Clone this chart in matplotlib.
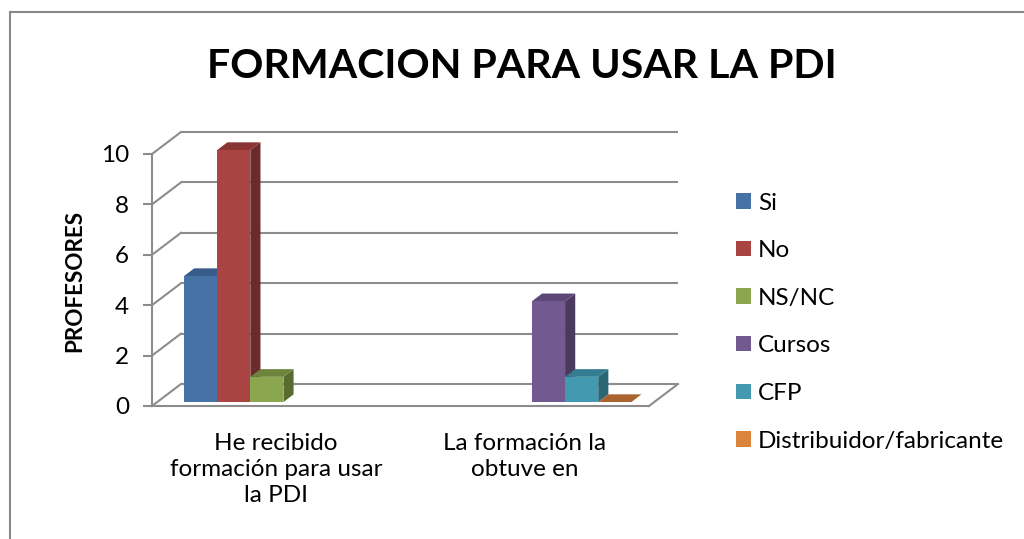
import matplotlib
matplotlib.use("Agg")
import matplotlib.pyplot as plt
from matplotlib.patches import Polygon, Rectangle, Patch
import numpy as np

# ---------------- data ----------------
categories = ["He recibido\nformación para usar\nla PDI", "La formación la\nobtuve en"]
series_names = ["Si", "No", "NS/NC", "Cursos", "CFP", "Distribuidor/fabricante"]
si = [5, None]
no = [10, None]
nsnc = [1, None]
cursos = [None, 4]
cfp = [None, 1]
distribuidor = [None, 0]
series_values = [si, no, nsnc, cursos, cfp, distribuidor]
yticks = [0, 2, 4, 6, 8, 10]
title = "FORMACION PARA USAR LA PDI"
ylabel = "PROFESORES"

# colours: front, top, side
front_cols = ["#4672A8", "#A94442", "#8AA64E", "#72598F", "#4399B0", "#DB843D"]
top_cols = ["#385C8A", "#8A3533", "#6E843D", "#5C4877", "#347C8F", "#A8632E"]
side_cols = ["#2D4A70", "#6B2B2A", "#5A6B31", "#4A3A60", "#2A6775", "#8A5025"]
grid_col = "#8C8C8C"

FONT = ["Lato", "DejaVu Sans"]
plt.rcParams['font.family'] = FONT

W, H = 1024, 539
fig = plt.figure(figsize=(W / 100, H / 100), dpi=100)
fig.patch.set_facecolor("white")

# front plane of the plot area in pixels
px_left, px_right, px_bottom, px_top = 152, 649, 406, 154
ax = fig.add_axes([px_left / W, 1 - px_bottom / H,
                   (px_right - px_left) / W, (px_bottom - px_top) / H])
ncat = len(categories)
ax.set_xlim(0, ncat)
ax.set_ylim(0, 10)
ax.patch.set_alpha(0)
for s in ax.spines.values():
    s.set_visible(False)

# depth offset (full depth) in data units
xunit = (px_right - px_left) / ncat
yunit = (px_bottom - px_top) / 10
DX = 29 / xunit
DY = 22 / yunit


def proj(x, y, z):
    return (x + z * DX, y + z * DY)


lw = 1.5
# back wall gridlines and left wall diagonals
for t in yticks:
    x0, y0 = proj(0, t, 1)
    x1, y1 = proj(ncat, t, 1)
    ax.plot([x0, x1], [y0, y1], color=grid_col, lw=lw, clip_on=False, zorder=1,
            solid_capstyle="butt")
    ax.plot([0, x0], [t, y0], color=grid_col, lw=lw, clip_on=False, zorder=1)
# floor
ax.plot([0, ncat], [0, 0], color=grid_col, lw=lw, clip_on=False, zorder=1)
xr, yr = proj(ncat, 0, 1)
ax.plot([ncat, xr], [0, yr], color=grid_col, lw=lw, clip_on=False, zorder=1)
# front vertical axis
ax.plot([0, 0], [0, 10], color=grid_col, lw=lw, clip_on=False, zorder=1)

# bars
nser = len(series_names)
gap = 1.5
bw = 1.0 / (nser + gap)
zf, zb = 0.18, 0.53
z = 2
for c in range(ncat):
    for i in range(nser):
        v = series_values[i][c]
        if v is None:
            continue
        x0 = c + gap * bw / 2 + i * bw + 0.008
        x1 = x0 + bw
        front = [proj(x0, 0, zf), proj(x1, 0, zf), proj(x1, v, zf), proj(x0, v, zf)]
        top = [proj(x0, v, zf), proj(x1, v, zf), proj(x1, v, zb), proj(x0, v, zb)]
        side = [proj(x1, 0, zf), proj(x1, v, zf), proj(x1, v, zb), proj(x1, 0, zb)]
        ax.add_patch(Polygon(side, closed=True, fc=side_cols[i], ec="none",
                             clip_on=False, zorder=z))
        ax.add_patch(Polygon(top, closed=True, fc=top_cols[i], ec="none",
                             clip_on=False, zorder=z))
        if v > 0:
            ax.add_patch(Polygon(front, closed=True, fc=front_cols[i], ec="none",
                                 clip_on=False, zorder=z))
        z += 1

FS = 17.5
# ticks
ax.set_yticks(yticks)
ax.set_yticklabels([str(t) for t in yticks], fontsize=FS)
ax.tick_params(axis="y", length=6.5, width=lw, color=grid_col, pad=10, labelcolor="black")
ax.set_xticks([c + 0.5 for c in range(ncat)])
ax.set_xticklabels(categories, fontsize=FS, linespacing=1.3)
ax.tick_params(axis="x", length=0, pad=19.5)

ax.set_ylabel(ylabel, fontsize=16.2, fontweight="bold")
ax.yaxis.set_label_coords((85 - px_left) / (px_right - px_left), 0.5 - (281 - 280) / 252)

fig.text(522 / W, 1 - 78 / H, title, fontsize=29.6, fontweight="bold", ha="center", va="baseline")

handles = [Patch(facecolor=front_cols[i], edgecolor="none") for i in range(nser)]
fig.legend(handles, series_names, loc="upper left", bbox_to_anchor=(736 / W, 1 - 192.5 / H),
           frameon=False, fontsize=FS, handlelength=0.6, handleheight=0.6,
           handletextpad=0.3, labelspacing=1.095, borderaxespad=0, borderpad=0)

# outer border
fig.patches.append(Rectangle((10 / W, -0.1), 1.2, (1 - 12 / H) + 0.1, transform=fig.transFigure,
                             fill=False, ec="#888888", lw=1.5, figure=fig))

fig.savefig("out.png", dpi=100)
